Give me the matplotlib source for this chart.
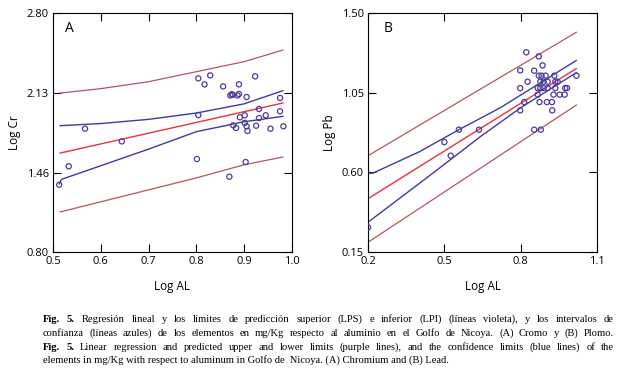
import matplotlib
matplotlib.use("Agg")
import matplotlib.pyplot as plt
import numpy as np

# ---- panel A: Cr vs Al ----
a_x = [0.513, 0.533, 0.567, 0.644, 0.801, 0.804, 0.804, 0.817, 0.829, 0.856,
       0.869, 0.871, 0.874, 0.876, 0.877, 0.883, 0.886, 0.889, 0.889, 0.891,
       0.901, 0.901, 0.905, 0.905, 0.903, 0.907, 0.923, 0.925, 0.931, 0.931,
       0.945, 0.955, 0.975, 0.975, 0.982]
a_y = [1.363, 1.517, 1.832, 1.726, 1.578, 1.946, 2.253, 2.203, 2.278, 2.186,
       1.430, 2.110, 2.120, 2.115, 1.860, 1.838, 2.110, 2.122, 2.203, 1.927,
       1.944, 1.880, 1.852, 2.097, 1.553, 1.813, 2.270, 1.857, 1.997, 1.921,
       1.944, 1.832, 2.089, 1.977, 1.852]

a_fit_x = [0.515, 0.981]
a_fit_y = [1.628, 2.047]
a_lps_x = [0.515, 0.6, 0.7, 0.8, 0.9, 0.981]
a_lps_y = [2.130, 2.167, 2.225, 2.309, 2.393, 2.490]
a_lpi_x = [0.515, 0.6, 0.7, 0.8, 0.9, 0.981]
a_lpi_y = [1.135, 1.220, 1.320, 1.420, 1.530, 1.595]
a_cu_x = [0.515, 0.6, 0.7, 0.8, 0.9, 0.981]
a_cu_y = [1.857, 1.875, 1.910, 1.963, 2.040, 2.150]
a_cl_x = [0.513, 0.518, 0.6, 0.7, 0.8, 0.9, 0.981]
a_cl_y = [1.370, 1.408, 1.522, 1.661, 1.807, 1.890, 1.935]

# ---- panel B: Pb vs Al ----
b_x = [0.200, 0.500, 0.525, 0.557, 0.636, 0.798, 0.814, 0.798, 0.798, 0.822,
       0.827, 0.853, 0.853, 0.871, 0.879, 0.886,
       0.871, 0.882, 0.898, 0.932, 1.019,
       0.877, 0.890, 0.906, 0.936, 0.945,
       0.867, 0.877, 0.890, 0.906, 0.936, 0.975, 0.982,
       0.867, 0.929, 0.953, 0.973,
       0.874, 0.903, 0.923, 0.924]
b_y = [0.289, 0.771, 0.694, 0.841, 0.841, 0.950, 0.997, 1.076, 1.176, 1.278,
       1.112, 1.174, 0.841, 1.255, 0.841, 1.204,
       1.146, 1.146, 1.146, 1.146, 1.146,
       1.112, 1.112, 1.112, 1.112, 1.112,
       1.076, 1.076, 1.076, 1.076, 1.076, 1.076, 1.076,
       1.039, 1.039, 1.039, 1.039,
       0.997, 0.997, 0.997, 0.950]

b_fit_x = [0.2, 1.0186]
b_fit_y = [0.451, 1.186]
b_lps_x = [0.2, 1.0186]
b_lps_y = [0.694, 1.391]
b_lpi_x = [0.2, 1.0186]
b_lpi_y = [0.205, 0.980]
b_cu_x = [0.2, 0.22, 0.4, 0.56, 0.72, 0.86, 1.0186]
b_cu_y = [0.594, 0.596, 0.715, 0.843, 0.965, 1.090, 1.232]
b_cl_x = [0.2, 0.45, 0.64, 0.8, 1.0186]
b_cl_y = [0.318, 0.590, 0.800, 0.965, 1.163]

# (text, bold leading words, justified)
caption = [
    ("Fig. 5. Regresión lineal y los límites de predicción superior (LPS) e inferior (LPI) (líneas violeta), y los intervalos de", 2, True),
    ("confianza (líneas azules) de los elementos en mg/Kg respecto al aluminio en el Golfo de Nicoya. (A) Cromo y (B) Plomo.", 0, True),
    ("Fig. 5. Linear regression and predicted upper and lower limits (purple lines), and the confidence limits (blue lines) of the", 2, True),
    ("elements in mg/Kg with respect to aluminum in Golfo de  Nicoya. (A) Chromium and (B) Lead.", 0, False),
]

red = "#e8323c"
brown = "#b0585c"
blue = "#3c3ca0"
mk = "#4b3c9c"
sans = ["Open Sans", "DejaVu Sans"]
serif = "Liberation Serif"

fig = plt.figure(figsize=(6.21, 3.76), dpi=100)
axA = fig.add_axes([0.0853, 0.3298, 0.3849, 0.6356])
axB = fig.add_axes([0.5926, 0.3298, 0.3688, 0.6356])


def panel(ax, px, py, fit, lps, lpi, cu, cl):
    ax.plot(*lps, color=brown, lw=0.9)
    ax.plot(*lpi, color=brown, lw=0.9)
    ax.plot(*cu, color=blue, lw=1.0)
    ax.plot(*cl, color=blue, lw=1.0)
    ax.plot(*fit, color=red, lw=1.0)
    ax.scatter(px, py, s=14, facecolors="none", edgecolors=mk, linewidths=0.9, zorder=3)
    ax.tick_params(direction="in", top=True, right=True, length=5.5, width=0.8,
                   labelsize=8, pad=3)
    for s in ax.spines.values():
        s.set_linewidth(0.8)


panel(axA, a_x, a_y, (a_fit_x, a_fit_y), (a_lps_x, a_lps_y), (a_lpi_x, a_lpi_y),
      (a_cu_x, a_cu_y), (a_cl_x, a_cl_y))
axA.set_xlim(0.5, 1.0)
axA.set_ylim(0.80, 2.80)
axA.set_xticks([0.5, 0.6, 0.7, 0.8, 0.9, 1.0])
axA.set_xticklabels(["0.5", "0.6", "0.7", "0.8", "0.9", "1.0"], family=sans)
axA.set_yticks([0.80, 1.46, 2.13, 2.80])
axA.set_yticklabels(["0.80", "1.46", "2.13", "2.80"], family=sans)
axA.set_xlabel("Log AL", family=sans, fontsize=8.5, labelpad=9)
axA.set_ylabel("Log Cr", family=sans, fontsize=8.5, labelpad=4)
axA.text(0.05, 0.92, "A", transform=axA.transAxes, family=sans, fontsize=10)

panel(axB, b_x, b_y, (b_fit_x, b_fit_y), (b_lps_x, b_lps_y), (b_lpi_x, b_lpi_y),
      (b_cu_x, b_cu_y), (b_cl_x, b_cl_y))
axB.set_xlim(0.2, 1.1)
axB.set_ylim(0.15, 1.50)
axB.set_xticks([0.2, 0.5, 0.8, 1.1])
axB.set_xticklabels(["0.2", "0.5", "0.8", "1.1"], family=sans)
axB.set_yticks([0.15, 0.60, 1.05, 1.50])
axB.set_yticklabels(["0.15", "0.60", "1.05", "1.50"], family=sans)
axB.set_xlabel("Log AL", family=sans, fontsize=8.5, labelpad=9)
axB.set_ylabel("Log Pb", family=sans, fontsize=8.5, labelpad=4)
axB.text(0.07, 0.92, "B", transform=axB.transAxes, family=sans, fontsize=10)

# caption, justified word by word
fig.canvas.draw()
r = fig.canvas.get_renderer()
W = 621.0
left, right = 43, 614
ys = [319, 333, 347, 360]
fs = 7.6
for (line, nbold, just), yp in zip(caption, ys):
    yf = 1 - yp / 376
    if not just:
        fig.text(left / W, yf, line, family=serif, fontsize=fs, va="center")
        continue
    words = line.split()
    texts = []
    for i, w in enumerate(words):
        t = fig.text(0, yf, w, family=serif, fontsize=fs, va="center",
                     weight="bold" if i < nbold else "normal")
        texts.append(t)
    widths = [t.get_window_extent(r).width for t in texts]
    gap = (right - left - sum(widths)) / (len(words) - 1)
    x = left
    for t, w in zip(texts, widths):
        t.set_x(x / W)
        x += w + gap

fig.savefig("out.png", dpi=100)
